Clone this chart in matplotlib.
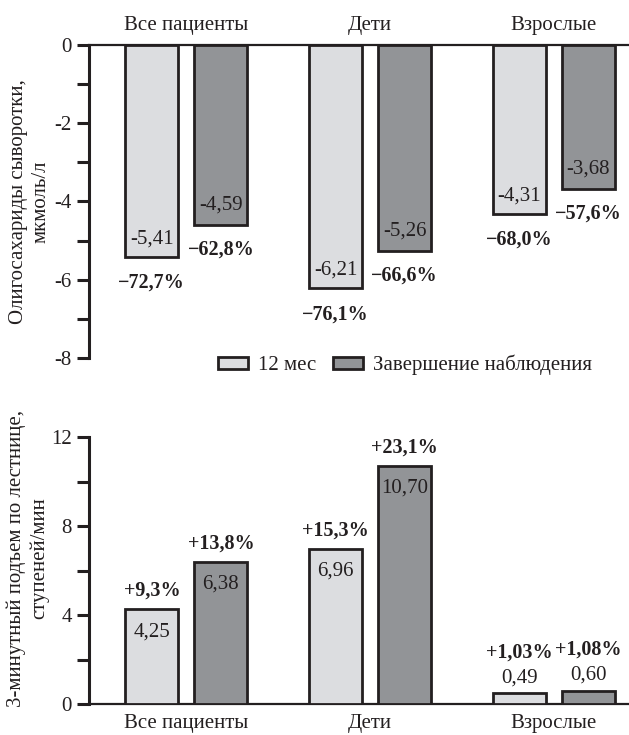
import matplotlib
matplotlib.use('Agg')
import matplotlib.pyplot as plt
import numpy as np
from matplotlib.patches import Patch

# ---- data ----
categories = ['Все пациенты', 'Дети', 'Взрослые']
series_names = ['12 мес', 'Завершение наблюдения']
oligo_12m = [-5.41, -6.21, -4.31]
oligo_end = [-4.59, -5.26, -3.68]
oligo_pct_12m = ['−72,7%', '−76,1%', '−68,0%']
oligo_pct_end = ['−62,8%', '−66,6%', '−57,6%']
stair_12m = [4.25, 6.96, 0.49]
stair_end = [6.38, 10.70, 0.60]
stair_pct_12m = ['+9,3%', '+15,3%', '+1,03%']
stair_pct_end = ['+13,8%', '+23,1%', '+1,08%']
oligo_major = [0, -2, -4, -6, -8]
oligo_minor = [-1, -3, -5, -7]
stair_major = [0, 4, 8, 12]
stair_minor = [2, 6, 10]
oligo_ylabel = 'Олигосахариды сыворотки,\nмкмоль/л'
stair_ylabel = '3-минутный подъем по лестнице,\nступеней/мин'

# ---- style ----
plt.rcParams['font.family'] = ['Liberation Serif', 'DejaVu Serif']
plt.rcParams['font.size'] = 15
plt.rcParams['axes.unicode_minus'] = False
INK = '#231f20'
LIGHT = '#dcdde0'
DARK = '#929497'
W, H = 629, 735
BW = 0.289
OFF = 0.188
EDGE_LW = 2.0
PCT_SIZE = 14.5

fig = plt.figure(figsize=(W / 100, H / 100), dpi=100)
ax1 = fig.add_axes([89 / W, 1 - 358 / H, 540 / W, (358 - 45) / H])
ax2 = fig.add_axes([89 / W, 1 - 704 / H, 540 / W, (704 - 437) / H])

x = np.arange(len(categories))


def fmt(v):
    return f'{v:.2f}'.replace('.', ',')


def style_axis(ax, ylim, major, minor, xlab_pos):
    ax.set_ylim(*ylim)
    ax.set_xlim(-0.53, 2.41)
    for s in ['right', 'top', 'bottom']:
        ax.spines[s].set_visible(False)
    ax.spines[xlab_pos].set_visible(True)
    ax.spines[xlab_pos].set_linewidth(1.6)
    ax.spines[xlab_pos].set_color(INK)
    ax.spines['left'].set_linewidth(2.2)
    ax.spines['left'].set_color(INK)
    ax.set_yticks(major)
    ax.set_yticklabels([str(t) for t in major])
    ax.set_yticks(minor, minor=True)
    ax.tick_params(axis='y', which='both', direction='out', length=8.5,
                   width=2.2, color=INK, labelcolor=INK, pad=4)
    ax.set_xticks(x)
    ax.set_xticklabels(categories, color=INK)
    if xlab_pos == 'top':
        ax.xaxis.tick_top()
    ax.tick_params(axis='x', which='both', length=0, pad=7)


# ---- top panel ----
ax1.bar(x - OFF, oligo_12m, BW, color=LIGHT, edgecolor=INK, linewidth=EDGE_LW, zorder=3)
ax1.bar(x + OFF, oligo_end, BW, color=DARK, edgecolor=INK, linewidth=EDGE_LW, zorder=3)
style_axis(ax1, (-8, 0), oligo_major, oligo_minor, 'top')
for xi, v, p in zip(x - OFF, oligo_12m, oligo_pct_12m):
    ax1.annotate(fmt(v), (xi, v), xytext=(0, 13), textcoords='offset points',
                 ha='center', va='center', color=INK, zorder=5)
    ax1.annotate(p, (xi, v), xytext=(0, -19), textcoords='offset points',
                 ha='center', va='center', color=INK, fontweight='bold', fontsize=PCT_SIZE)
for xi, v, p in zip(x + OFF, oligo_end, oligo_pct_end):
    ax1.annotate(fmt(v), (xi, v), xytext=(0, 14), textcoords='offset points',
                 ha='center', va='center', color=INK, zorder=5)
    ax1.annotate(p, (xi, v), xytext=(0, -18), textcoords='offset points',
                 ha='center', va='center', color=INK, fontweight='bold', fontsize=PCT_SIZE)
ax1.set_ylabel(oligo_ylabel, color=INK, linespacing=1.25)
ax1.yaxis.set_label_coords(-0.071, 0.5)

# ---- bottom panel ----
ax2.bar(x - OFF, stair_12m, BW, color=LIGHT, edgecolor=INK, linewidth=EDGE_LW, zorder=3)
ax2.bar(x + OFF, stair_end, BW, color=DARK, edgecolor=INK, linewidth=EDGE_LW, zorder=3)
style_axis(ax2, (0, 12), stair_major, stair_minor, 'bottom')
for xs, vals, pcts in [(x - OFF, stair_12m, stair_pct_12m), (x + OFF, stair_end, stair_pct_end)]:
    for xi, v, p in zip(xs, vals, pcts):
        if v >= 1:
            ax2.annotate(fmt(v), (xi, v), xytext=(0, -16), textcoords='offset points',
                         ha='center', va='center', color=INK, zorder=5)
            ax2.annotate(p, (xi, v), xytext=(0, 13.5), textcoords='offset points',
                         ha='center', va='center', color=INK, fontweight='bold',
                         fontsize=PCT_SIZE)
        else:
            ax2.annotate(fmt(v), (xi, v), xytext=(0, 11), textcoords='offset points',
                         ha='center', va='center', color=INK, zorder=5)
            ax2.annotate(p, (xi, v), xytext=(0, 29.5), textcoords='offset points',
                         ha='center', va='center', color=INK, fontweight='bold',
                         fontsize=PCT_SIZE)
ax2.set_ylabel(stair_ylabel, color=INK, linespacing=1.25)
ax2.yaxis.set_label_coords(-0.073, 0.547)

# ---- legend ----
handles = [Patch(facecolor=LIGHT, edgecolor=INK, linewidth=EDGE_LW, label=series_names[0]),
           Patch(facecolor=DARK, edgecolor=INK, linewidth=EDGE_LW, label=series_names[1])]
fig.legend(handles=handles, loc='center', bbox_to_anchor=(405 / W, 1 - 365 / H), ncol=2,
           frameon=False, handlelength=1.44, handleheight=0.55, handletextpad=0.48,
           columnspacing=0.77, labelcolor=INK)

fig.savefig('out.png', dpi=100)
